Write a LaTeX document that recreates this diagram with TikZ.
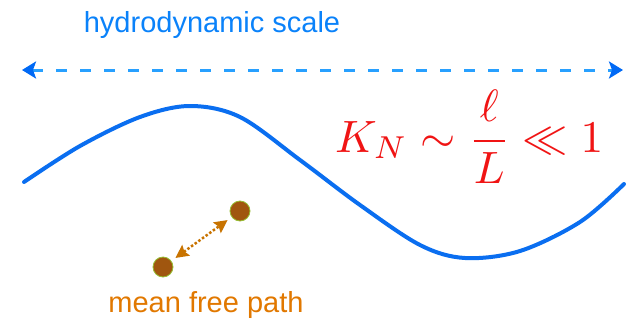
\documentclass[tikz,border=0pt]{standalone}
\usepackage{fontspec}
\usepackage{graphicx}
\setsansfont{Liberation Sans}
\usetikzlibrary{arrows.meta}
\definecolor{waveblue}{RGB}{10,110,240}
\definecolor{dashblue}{RGB}{40,160,255}
\definecolor{tipblue}{RGB}{0,105,245}
\definecolor{titleblue}{RGB}{10,130,250}
\definecolor{fred}{RGB}{240,20,20}
\definecolor{dotbrown}{RGB}{160,86,15}
\definecolor{dotrim}{RGB}{150,190,50}
\definecolor{mfporange}{RGB}{225,120,0}
\definecolor{arrorange}{RGB}{200,115,0}
\tikzset{
  lbl/.style={font=\sffamily\fontsize{29}{34}\selectfont, inner sep=0pt},
  particle/.style={circle, fill=dotbrown, draw=dotrim, line width=0.8pt, minimum size=20pt, inner sep=0pt},
}
\begin{document}
\begin{tikzpicture}[x=1pt,y=-1pt]
\useasboundingbox (0,0) rectangle (631,327);
\node[lbl, text=titleblue, anchor=base] (title) at (212,32) {hydrodynamic scale};
\coordinate (hl) at (22,70);
\coordinate (hr) at (623,70);
\draw[dashblue, line width=3pt, dash pattern=on 11pt off 13pt,
  {Stealth[length=14pt,width=17pt,inset=3pt,color=tipblue]}-{Stealth[length=14pt,width=17pt,inset=3pt,color=tipblue]}]
  (hl) -- (hr);
\draw[waveblue, line width=4pt, line cap=round] plot[smooth, tension=0.55] coordinates
  {(24,182) (80,146) (140,117) (190,106) (240,117) (300,160) (360,205) (420,245) (465,258) (520,251) (580,222) (624,184)};
\node[text=fred, anchor=base west, inner sep=0pt] (kn) at (335,152)
  {\resizebox{268pt}{!}{$\displaystyle K_N \sim \frac{\ell}{L} \ll 1$}};
\node[particle] (p1) at (240,211) {};
\node[particle] (p2) at (163,267) {};
\draw[arrorange, line width=2.5pt, dotted, shorten <=5pt, shorten >=5pt,
  {Stealth[length=13pt,width=13pt,inset=2pt]}-{Stealth[length=13pt,width=13pt,inset=2pt]}]
  (p2) -- (p1);
\node[lbl, text=mfporange, anchor=base] (mfp) at (206,312) {mean free path};
\end{tikzpicture}
\end{document}
